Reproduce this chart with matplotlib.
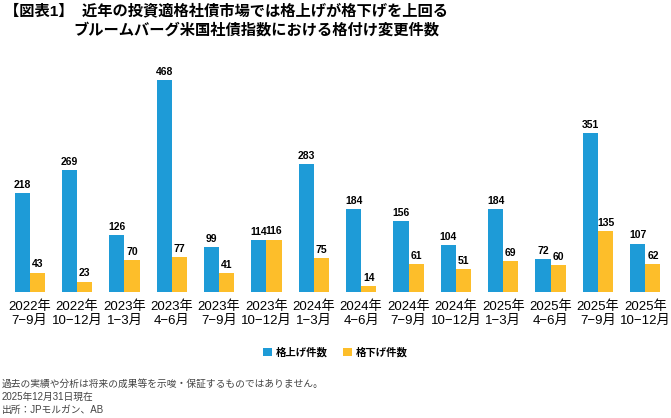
import numpy as np
import matplotlib.pyplot as plt

plt.rcParams['font.family'] = ['Liberation Sans', 'Noto Sans CJK JP', 'DejaVu Sans']

quarters = ['2022年\n7−9月', '2022年\n10−12月', '2023年\n1−3月', '2023年\n4−6月',
            '2023年\n7−9月', '2023年\n10−12月', '2024年\n1−3月', '2024年\n4−6月',
            '2024年\n7−9月', '2024年\n10−12月', '2025年\n1−3月', '2025年\n4−6月',
            '2025年\n7−9月', '2025年\n10−12月']
upgrades = [218, 269, 126, 468, 99, 114, 283, 184, 156, 104, 184, 72, 351, 107]
downgrades = [43, 23, 70, 77, 41, 116, 75, 14, 61, 51, 69, 60, 135, 62]

blue = '#1E9BD7'
yellow = '#FDBE2A'

fig = plt.figure(figsize=(6.71, 4.18), dpi=100)
ax = fig.add_axes([6 / 671, 1 - 292 / 418, 663 / 671, 226 / 418])

x = np.arange(len(quarters))
w = 0.32
b1 = ax.bar(x - w / 2, upgrades, w, color=blue, label='格上げ件数')
b2 = ax.bar(x + w / 2, downgrades, w, color=yellow, label='格下げ件数')

for bars in (b1, b2):
    for r in bars:
        ax.text(r.get_x() + r.get_width() / 2, r.get_height() + 7, str(int(r.get_height())),
                ha='center', va='bottom', fontsize=7.5, fontweight='bold')

ax.set_xlim(-0.5, len(quarters) - 0.5)
ax.set_ylim(0, 500)
ax.set_yticks([])
ax.set_xticks(x)
ax.set_xticklabels(quarters, fontsize=9.5, linespacing=1.25)
ax.tick_params(axis='x', length=0, pad=6)
for s in ax.spines.values():
    s.set_visible(False)

fig.text(4 / 671, 1 - 11 / 418, '【図表1】  近年の投資適格社債市場では格上げが格下げを上回る',
         fontsize=11, fontweight='bold', va='center')
fig.text(73 / 671, 1 - 30 / 418, 'ブルームバーグ米国社債指数における格付け変更件数',
         fontsize=11, fontweight='bold', va='center')

fig.legend(handles=[b1, b2], loc='center', bbox_to_anchor=(0.5, 1 - 352 / 418), ncol=2,
           frameon=False, handlelength=0.8, handleheight=0.8,
           handletextpad=0.4, columnspacing=1.5, prop={'weight': 'bold', 'size': 7.5})

notes = ['過去の実績や分析は将来の成果等を示唆・保証するものではありません。',
         '2025年12月31日現在',
         '出所：JPモルガン、AB']
for i, t in enumerate(notes):
    fig.text(2 / 671, 1 - (384 + i * 13) / 418, t, fontsize=7, color='#444444', va='center')

fig.savefig('out.png', dpi=100)
